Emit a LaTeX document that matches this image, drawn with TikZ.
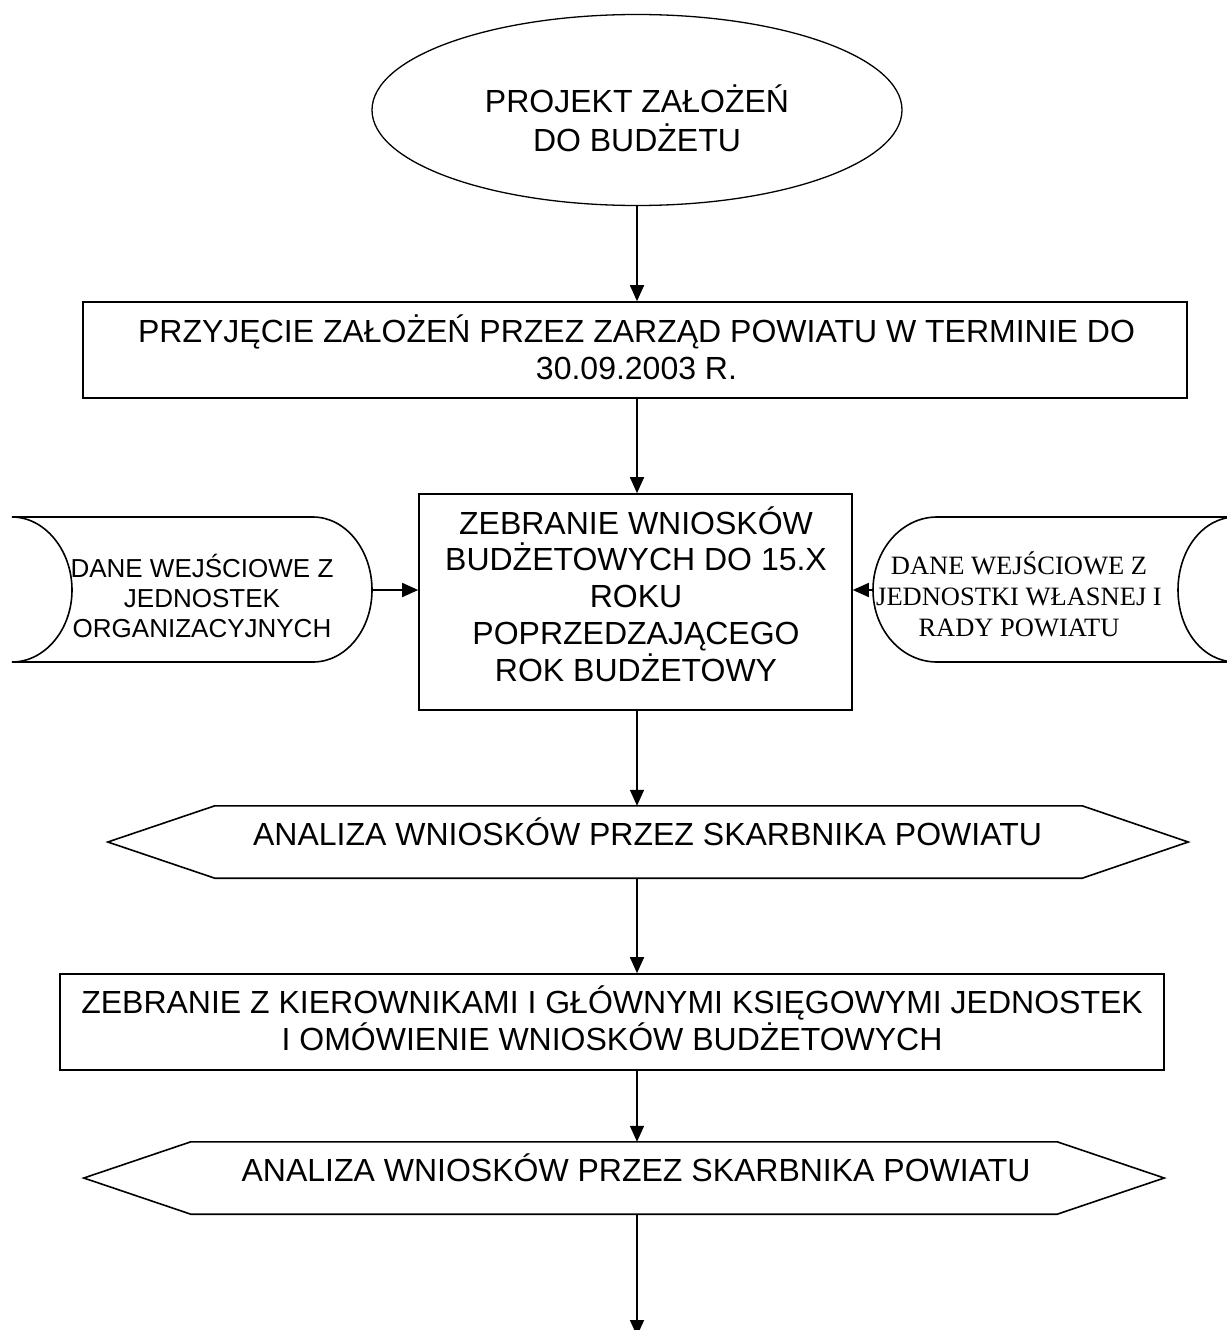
\documentclass[tikz,border=0pt]{standalone}
\usepackage{fontspec}
\setmainfont{Liberation Sans}
\newfontfamily\timesfnt{Liberation Serif}
\usetikzlibrary{arrows.meta,shapes.geometric}
\begin{document}
\begin{tikzpicture}[x=1pt,y=-1pt,
  shp/.style={draw=black,line width=1.6pt},
  boxn/.style={shp,rectangle,inner sep=0pt},
  ghost/.style={rectangle,inner sep=0pt},
  bigtxt/.style={align=center,inner sep=0pt,font=\fontsize{32}{36.75}\selectfont},
  smalltxt/.style={align=center,inner sep=0pt,font=\fontsize{26}{30}\selectfont},
  serftxt/.style={align=center,inner sep=0pt,font=\timesfnt\fontsize{26.5}{31}\selectfont},
  arr/.style={line width=1.6pt,-{Triangle[length=16pt,width=14pt]}}]
\useasboundingbox (0,0) rectangle (1226,1330);
\fill[white] (0,0) rectangle (1226,1330);
\coordinate (axis) at (637,0);

% ellipse
\node[shp,ellipse,line width=1.3pt,minimum width=530pt,minimum height=191pt,inner sep=0pt] (e) at (637,110) {};
\node[bigtxt,font=\fontsize{32}{39}\selectfont] (et) at (637,118) {PROJEKT ZAŁOŻEŃ\\DO BUDŻETU};

% box 1
\node[boxn,minimum width=1104pt,minimum height=96pt] (b1) at (635,350) {};
\node[bigtxt] (b1t) at (636.5,347) {PRZYJĘCIE ZAŁOŻEŃ PRZEZ ZARZĄD POWIATU W TERMINIE DO\\30.09.2003 R.};

% box 2
\node[boxn,minimum width=433pt,minimum height=216pt] (b2) at (635.5,602) {};
\node[bigtxt] (b2t) at (636,594) {ZEBRANIE WNIOSKÓW\\BUDŻETOWYCH DO 15.X\\ROKU\\POPRZEDZAJĄCEGO\\ROK BUDŻETOWY};

% left data shape
\draw[shp] (12,517) -- (313,517) .. controls (345.6,517) and (372,550) .. (372,590)
  .. controls (372,630) and (345.6,662) .. (313,662) -- (12,662)
  .. controls (44.6,662) and (72,630) .. (72,590)
  .. controls (72,550) and (44.6,517) .. (12,517) -- cycle;
\coordinate (Lr) at (372,590);
\node[smalltxt] (Lt) at (202,595.5) {DANE WEJŚCIOWE Z\\JEDNOSTEK\\ORGANIZACYJNYCH};

% right data shape
\draw[shp] (1236,517) -- (937,517) .. controls (901.7,517) and (873,550) .. (873,590)
  .. controls (873,630) and (901.7,662) .. (937,662) -- (1236,662)
  .. controls (1203,662) and (1178,630) .. (1178,590)
  .. controls (1178,550) and (1203,517) .. (1236,517) -- cycle;
\coordinate (Rl) at (873,590);
\node[serftxt] (Rt) at (1019,594) {DANE WEJŚCIOWE Z\\JEDNOSTKI WŁASNEJ I\\RADY POWIATU};

% hexagon 1
\node[ghost,minimum width=1080pt,minimum height=72pt] (h1) at (648,842) {};
\draw[shp] (h1.west) -- ([xshift=107pt]h1.north west) -- ([xshift=-106pt]h1.north east)
  -- (h1.east) -- ([xshift=-106pt]h1.south east) -- ([xshift=107pt]h1.south west) -- cycle;
\node[bigtxt] (h1t) at (647.5,831.5) {ANALIZA WNIOSKÓW PRZEZ SKARBNIKA POWIATU};

% box 3
\node[boxn,minimum width=1104pt,minimum height=96pt] (b3) at (612,1022) {};
\node[bigtxt] (b3t) at (612,1018) {ZEBRANIE Z KIEROWNIKAMI I GŁÓWNYMI KSIĘGOWYMI JEDNOSTEK\\I OMÓWIENIE WNIOSKÓW BUDŻETOWYCH};

% hexagon 2
\node[ghost,minimum width=1080pt,minimum height=72pt] (h2) at (624,1178) {};
\draw[shp] (h2.west) -- ([xshift=107pt]h2.north west) -- ([xshift=-107pt]h2.north east)
  -- (h2.east) -- ([xshift=-107pt]h2.south east) -- ([xshift=107pt]h2.south west) -- cycle;
\node[bigtxt] (h2t) at (636,1167.5) {ANALIZA WNIOSKÓW PRZEZ SKARBNIKA POWIATU};

\coordinate (endpt) at (637,1336);

% connectors
\draw[arr] (e.south) -- (axis |- b1.north);
\draw[arr] (axis |- b1.south) -- (axis |- b2.north);
\draw[arr] (axis |- b2.south) -- (axis |- h1.north);
\draw[arr] (axis |- h1.south) -- (axis |- b3.north);
\draw[arr] (axis |- b3.south) -- (axis |- h2.north);
\draw[arr] (axis |- h2.south) -- (endpt);
\draw[arr] (Lr) -- (Lr -| b2.west);
\draw[arr] (Rl) -- (Rl -| b2.east);
\end{tikzpicture}
\end{document}
